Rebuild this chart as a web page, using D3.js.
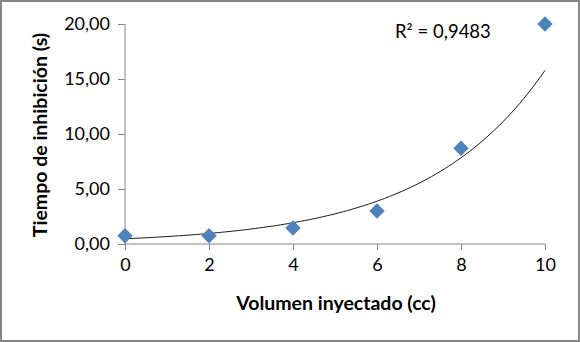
<!DOCTYPE html>
<html><head><meta charset="utf-8">
<script src="https://cdn.jsdelivr.net/npm/d3@7"></script>
<style>body{margin:0;background:#fff}svg{display:block}</style>
</head><body>
<script>
const volumes = [0, 2, 4, 6, 8, 10];
const times = [0.75, 0.75, 1.45, 3.0, 8.7, 20.0];
const xTicks = [0, 2, 4, 6, 8, 10];
const yTicks = [0, 5, 10, 15, 20];
const r2Label = "R² = 0,9483";
const xTitle = "Volumen inyectado (cc)";
const yTitle = "Tiempo de inhibición (s)";

const W = 580, H = 342;
const svg = d3.select("body").append("svg").attr("width", W).attr("height", H);
svg.append("rect").attr("x", 1).attr("y", 1).attr("width", W - 2).attr("height", H - 2)
  .attr("fill", "#fff").attr("stroke", "#868686").attr("stroke-width", 2);

const x = d3.scaleLinear().domain([0, 10]).range([125, 545]);
const y = d3.scaleLinear().domain([0, 20]).range([244, 24]);
const fmt = v => d3.format(".2f")(v).replace(".", ",");
const font = "Lato, 'Open Sans', sans-serif";

const ya = svg.append("g").attr("transform", "translate(125,0)")
  .call(d3.axisLeft(y).tickValues(yTicks).tickSize(7).tickPadding(8).tickFormat(fmt));
const xa = svg.append("g").attr("transform", "translate(0,244)")
  .call(d3.axisBottom(x).tickValues(xTicks).tickSize(6).tickPadding(8).tickFormat(d3.format("d")));
[ya, xa].forEach(g => {
  g.select(".domain").attr("stroke", "#868686");
  g.selectAll(".tick line").attr("stroke", "#868686");
  g.selectAll("text").attr("fill", "#000").style("font-family", font).style("font-size", "18px");
});
ya.select(".domain").attr("d", "M0,24V244");
xa.select(".domain").attr("d", "M125,0H545");

// exponential trendline fit (least squares on ln y)
const lx = volumes, ly = times.map(Math.log);
const mx = d3.mean(lx), my = d3.mean(ly);
const b = d3.sum(lx.map((v, i) => (v - mx) * (ly[i] - my))) / d3.sum(lx.map(v => (v - mx) ** 2));
const a = Math.exp(my - b * mx);
const curve = d3.range(0, 10.001, 0.1).map(v => [v, a * Math.exp(b * v)]);
svg.append("path").datum(curve)
  .attr("d", d3.line().x(d => x(d[0])).y(d => y(d[1])))
  .attr("fill", "none").attr("stroke", "#1a1a1a").attr("stroke-width", 1);

svg.selectAll(".pt").data(volumes).join("path")
  .attr("d", d3.symbol().type(d3.symbolSquare).size(118))
  .attr("transform", (d, i) => `translate(${x(d)},${y(times[i])}) rotate(45)`)
  .attr("fill", "#4F81BD");

svg.append("text").attr("x", 395).attr("y", 38).text(r2Label)
  .style("font-family", font).style("font-size", "18.5px").attr("fill", "#000");

svg.append("text").attr("x", 336).attr("y", 310).attr("text-anchor", "middle").text(xTitle)
  .style("font-family", font).style("font-size", "19.5px").style("font-weight", "bold");
svg.append("text").attr("transform", "translate(47,135) rotate(-90)").attr("text-anchor", "middle").text(yTitle)
  .style("font-family", font).style("font-size", "19.5px").style("font-weight", "bold");
</script>
</body></html>
